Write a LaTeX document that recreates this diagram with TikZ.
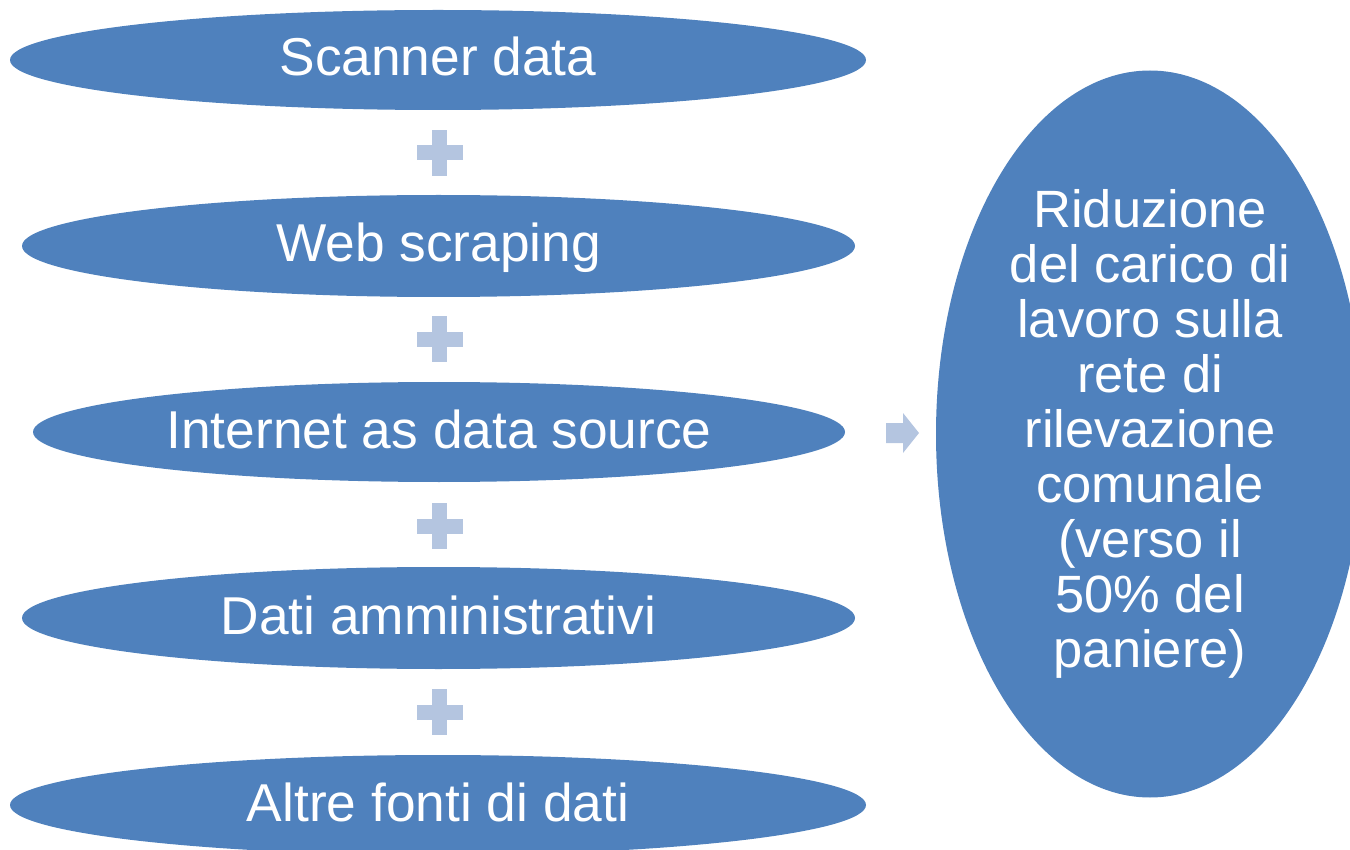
\documentclass[tikz,border=0pt]{standalone}
\usepackage{fontspec}
\setmainfont{Liberation Sans}
\usetikzlibrary{shapes.geometric}
\definecolor{ellblue}{HTML}{4F81BD}
\definecolor{lightblue}{HTML}{B4C5E0}
\tikzset{
  srcell/.style={ellipse, fill=ellblue, draw=none, inner sep=0pt, text=white,
    font=\fontsize{53.3}{55}\selectfont, text height=40pt, text depth=8pt},
  bigell/.style={ellipse, fill=ellblue, draw=none, inner sep=0pt, text=white,
    align=center, font=\fontsize{52.5}{55}\selectfont,
    minimum width=428pt, minimum height=727pt},
  plusmark/.style={fill=lightblue, draw=none},
}
\begin{document}
\begin{tikzpicture}[x=1pt,y=-1pt]
\useasboundingbox (0,0) rectangle (1350,850);
\clip (0,0) rectangle (1350,850);
\node[srcell, minimum width=856pt, minimum height=100pt] (e1) at (438,60) {Scanner data};
\node[srcell, minimum width=833pt, minimum height=102pt] (e2) at (438.5,246) {Web scraping};
\node[srcell, minimum width=812pt, minimum height=100pt] (e3) at (439,432) {Internet as data source};
\node[srcell, minimum width=833pt, minimum height=102pt] (e4) at (438.5,618) {Dati amministrativi};
\node[srcell, minimum width=856pt, minimum height=100pt] (e5) at (438,805) {Altre fonti di dati};
\node[bigell] (res) at (1150,434) {Riduzione\\del carico di\\lavoro sulla\\rete di\\rilevazione\\comunale\\(verso il\\50\% del\\paniere)};
% plus signs
\foreach \py in {153,339.5,526,712}{
  \fill[plusmark] (432,\py-23) rectangle (447,\py+23);
  \fill[plusmark] (416.5,\py-7.5) rectangle (462.5,\py+7.5);
}
% arrow
\fill[plusmark] (886,423) -- (903,423) -- (903,413) -- (919,433) -- (903,453) -- (903,443) -- (886,443) -- cycle;
\end{tikzpicture}
\end{document}
